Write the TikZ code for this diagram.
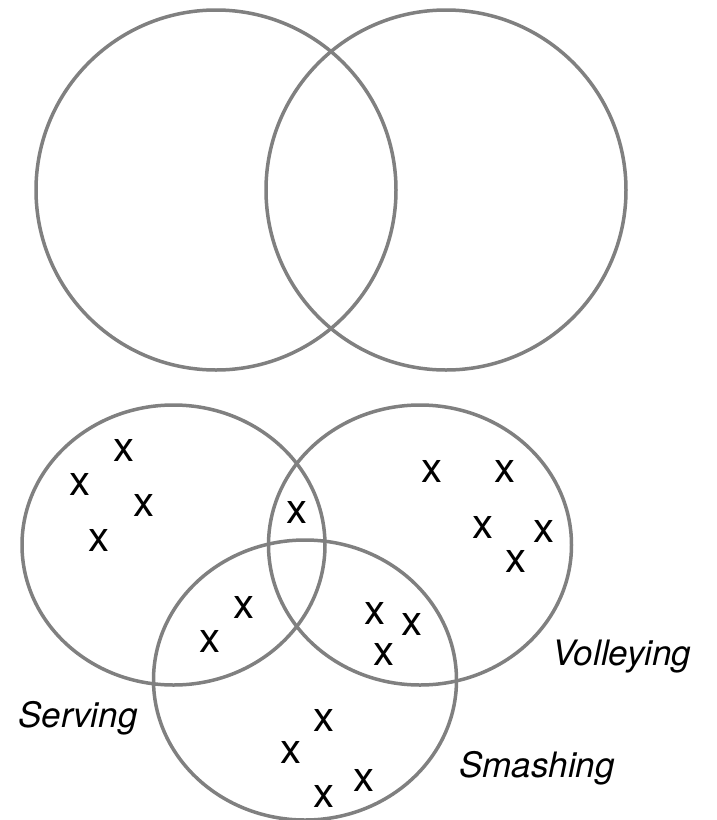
\documentclass[tikz,border=0pt]{standalone}
\usepackage{fontspec}
\setmainfont{TeX Gyre Heros}
\definecolor{ringgray}{gray}{0.5}

\begin{document}
\begin{tikzpicture}[x=1pt, y=-1pt,
		ring/.style={draw=ringgray, line width=3.5pt},
		cross/.style={font=\fontsize{42}{42}\selectfont, inner sep=0pt},
		setname/.style={font=\fontsize{35}{40}\selectfont\itshape, inner sep=0pt}]
		\useasboundingbox (0,0) rectangle (716,820);
		\def\R{180}\def\rx{151.5}\def\ry{140}
		\coordinate (A) at (216,190);
		\coordinate (B) at (446,190);
		\coordinate (S) at (173.5,545);
		\coordinate (V) at (420,545);
		\coordinate (M) at (305,680);
		% two-set diagram
		\draw[ring] (A) circle (\R);
		\draw[ring] (B) circle (\R);
		% three-set diagram
		\foreach \P in {S,V,M} \draw[ring] (\P) ellipse ({\rx} and {\ry});
		% serving only
		\foreach \p [count=\i] in {(124,450),(80,484),(144,505),(99,540)}
			\node[cross] (s\i) at \p {x};
		% serving and volleying
		\node[cross] (sv1) at (297,512) {x};
		% serving and smashing
		\node[cross] (sm1) at (244,607) {x};
		\node[cross] (sm2) at (210,641) {x};
		% volleying only
		\foreach \p [count=\i] in {(432,471),(505,471),(483,527),(544,531),(516,561)}
			\node[cross] (v\i) at \p {x};
		% volleying and smashing
		\foreach \p [count=\i] in {(375,613),(412,624),(384,654)}
			\node[cross] (vm\i) at \p {x};
		% smashing only
		\foreach \p [count=\i] in {(324,720),(291,752),(324,796),(364,780)}
			\node[cross] (m\i) at \p {x};
		% set names
		\node[setname] (serving) at (78,718) {Serving};
		\node[setname] (volleying) at (622,657) {Volleying};
		\node[setname] (smashing) at (537,768) {Smashing};
	\end{tikzpicture}
\end{document}
